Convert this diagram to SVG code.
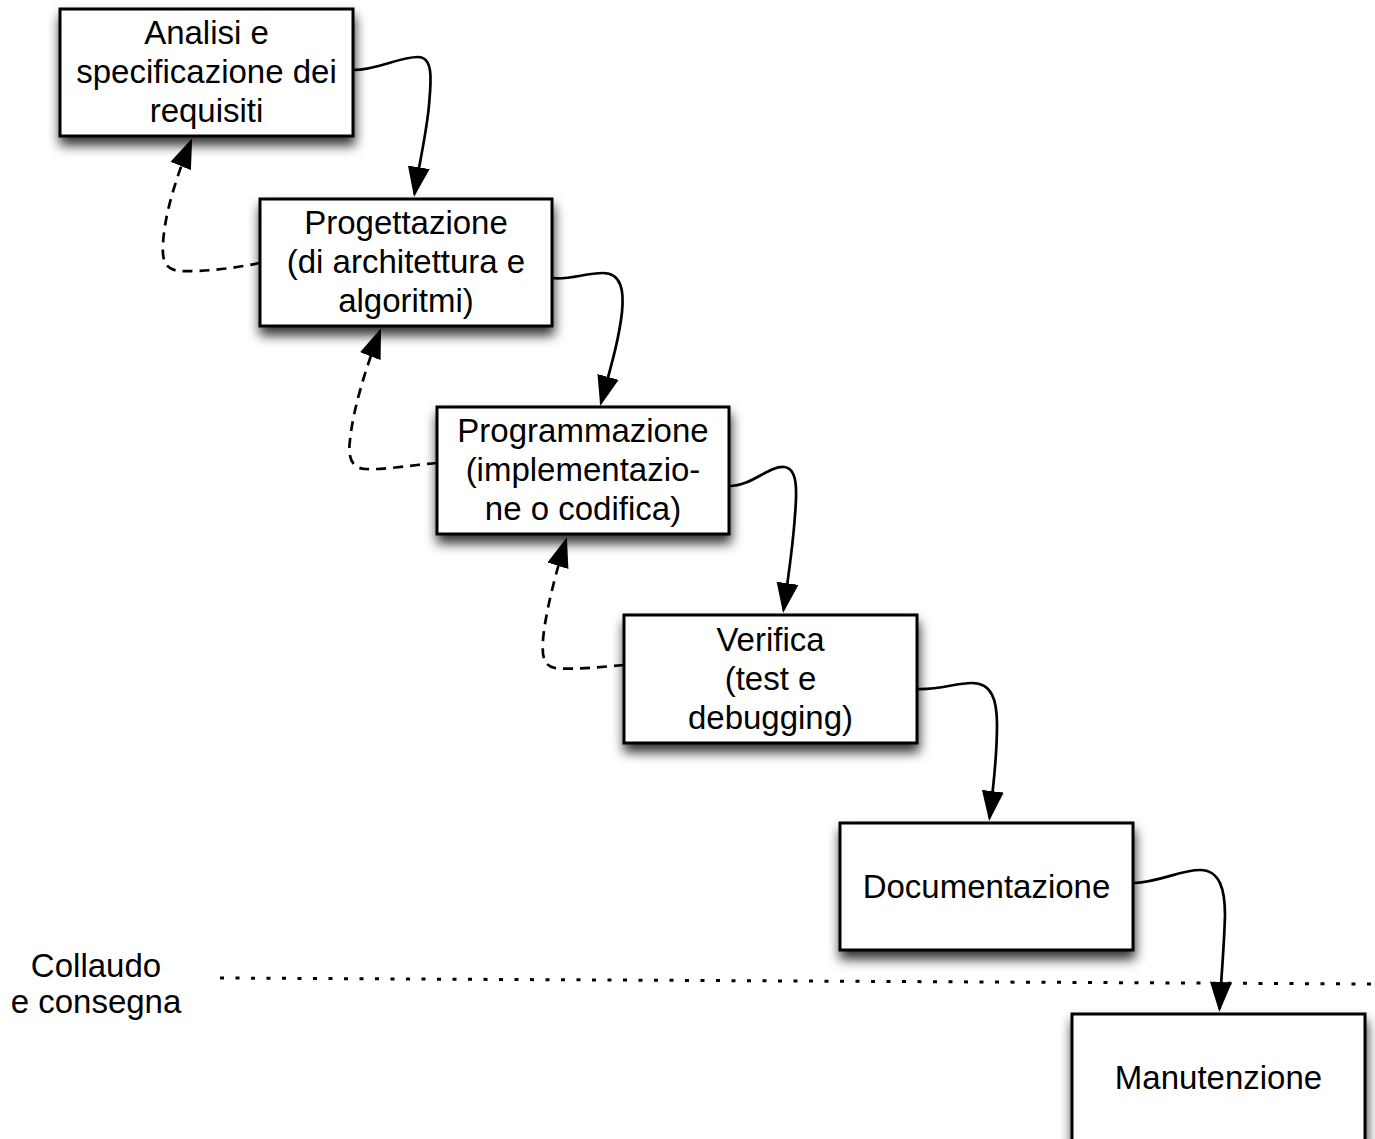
<svg xmlns="http://www.w3.org/2000/svg" width="1375" height="1139" viewBox="0 0 1375 1139">
  <defs>
    <filter id="shadow" x="-10%" y="-15%" width="125%" height="145%">
      <feDropShadow dx="1" dy="8" stdDeviation="6" flood-color="#000" flood-opacity="0.8"/>
    </filter>
    <marker id="arrow" markerUnits="userSpaceOnUse" viewBox="0 0 30 22" refX="27" refY="11" markerWidth="30" markerHeight="22" orient="auto">
      <path d="M0,0 L30,11 L0,22 Z" fill="#000"/>
    </marker>
    <style>
      .box { fill: #fff; stroke: #000; stroke-width: 3; filter: url(#shadow); }
      .label { font-family: "Liberation Sans", Arial, sans-serif; font-size: 33px; fill: #000; text-anchor: middle; }
      .flow { fill: none; stroke: #000; stroke-width: 2.7; marker-end: url(#arrow); }
      .back { fill: none; stroke: #000; stroke-width: 2.7; stroke-dasharray: 10 7; marker-end: url(#arrow); }
      .phase { fill: none; stroke: #000; stroke-width: 3; stroke-dasharray: 4 11.5; }
    </style>
  </defs>
  <rect width="1375" height="1139" fill="#fff"/>

  <!-- phase boundary -->
  <g id="boundary">
    <line class="phase" x1="220" y1="978" x2="1375" y2="984"/>
    <text class="label" x="96" y="977">Collaudo</text>
    <text class="label" x="96" y="1013">e consegna</text>
  </g>

  <g id="analisi">
    <rect class="box" x="60" y="9" width="293" height="127"/>
    <text class="label" x="206.5" y="44">Analisi e</text>
    <text class="label" x="206.5" y="83">specificazione dei</text>
    <text class="label" x="206.5" y="122">requisiti</text>
  </g>

  <g id="progettazione">
    <rect class="box" x="260" y="199" width="292" height="127"/>
    <text class="label" x="406" y="234">Progettazione</text>
    <text class="label" x="406" y="273">(di architettura e</text>
    <text class="label" x="406" y="312">algoritmi)</text>
  </g>

  <g id="programmazione">
    <rect class="box" x="437" y="407" width="292" height="127"/>
    <text class="label" x="583" y="442">Programmazione</text>
    <text class="label" x="583" y="481">(implementazio-</text>
    <text class="label" x="583" y="520">ne o codifica)</text>
  </g>

  <g id="verifica">
    <rect class="box" x="624" y="615" width="293" height="128"/>
    <text class="label" x="770.5" y="651">Verifica</text>
    <text class="label" x="770.5" y="690">(test e</text>
    <text class="label" x="770.5" y="729">debugging)</text>
  </g>

  <g id="documentazione">
    <rect class="box" x="840" y="823" width="293" height="127"/>
    <text class="label" x="986.5" y="898">Documentazione</text>
  </g>

  <g id="manutenzione">
    <rect class="box" x="1072" y="1014" width="293" height="140"/>
    <text class="label" x="1218.5" y="1089">Manutenzione</text>
  </g>

  <g id="connectors">
    <!-- forward flow -->
    <path class="flow" d="M353,70 C378,70 398,57 418,57 C434,57 431,82 429,105 C427,130 420,160 414.5,194"/>
    <path class="flow" d="M552,278 C570,280 585,273 603,273 C622,273 624,292 622,312 C619,340 610,370 601,403"/>
    <path class="flow" d="M729,486 C752,486 768,466 784,467 C798,468 797,492 795,515 C793,545 788,580 783.5,610"/>
    <path class="flow" d="M917,689 C940,690 955,683 972,683 C992,683 997,700 997,725 C997,760 993,790 989.5,818"/>
    <path class="flow" d="M1134,883 C1160,882 1180,870 1200,870 C1220,870 1225,890 1225,915 C1224,950 1221,980 1219.5,1009"/>
    <!-- feedback loops -->
    <path class="back" d="M260,263 C235,268 205,272 180,271 C165,270 162,260 163,245 C164,215 177,175 191,141"/>
    <path class="back" d="M437,463 C412,465 385,470 365,469 C350,468 348,455 350,440 C353,410 365,370 380,331"/>
    <path class="back" d="M624,665 C600,667 575,670 555,668 C543,666 542,655 543,640 C545,615 555,575 566,540"/>
  </g>
</svg>
